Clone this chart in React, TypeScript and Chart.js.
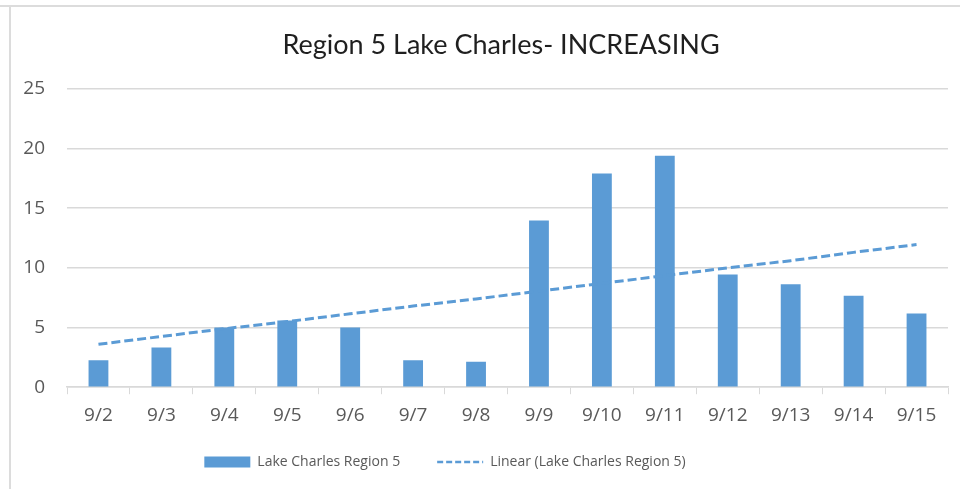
import React, { useEffect, useRef } from "react";
import { Chart, registerables } from "chart.js";

Chart.register(...registerables);

const categories = ["9/2", "9/3", "9/4", "9/5", "9/6", "9/7", "9/8", "9/9", "9/10", "9/11", "9/12", "9/13", "9/14", "9/15"];
const barValues = [2.25, 3.33, 5.0, 5.6, 5.0, 2.25, 2.13, 13.97, 17.9, 19.4, 9.44, 8.63, 7.67, 6.17];
const trendValues = [3.6, 4.25, 4.9, 5.5, 6.15, 6.8, 7.4, 8.05, 8.7, 9.35, 10.0, 10.6, 11.3, 11.95];
const yTicks = [0, 5, 10, 15, 20, 25];
const titleText = "Region 5 Lake Charles- INCREASING";
const barLabel = "Lake Charles Region 5";
const trendLabel = "Linear (Lake Charles Region 5)";

const BLUE = "#5B9BD5";
const GRID = "#d9d9d9";
const AXIS_TEXT = "#595959";

const CANVAS_W = 960;
const CANVAS_H = 489;
const TITLE_CENTER_X = 501;
const LEGEND_CENTER_X = 445;
const LEGEND_CENTER_Y = 462;
const LEGEND_PAD = 37;
const LEGEND_FONT = 14;

const placeBoxes = {
  id: "placeBoxes",
  afterLayout(chart: any) {
    const t = chart.titleBlock;
    if (t) {
      const dx = TITLE_CENTER_X - (t.left + t.right) / 2;
      t.left += dx;
      t.right += dx;
    }
    const l = chart.legend;
    if (l) {
      const dx = LEGEND_CENTER_X - (l.left + l.right) / 2;
      l.left += dx;
      l.right += dx;
      l.top = LEGEND_CENTER_Y - LEGEND_PAD - LEGEND_FONT / 2;
      l.bottom = CANVAS_H;
    }
  },
};

export default function App() {
  const canvasRef = useRef<HTMLCanvasElement | null>(null);

  useEffect(() => {
    if (!canvasRef.current) return;
    const chart = new Chart(canvasRef.current, {
      type: "bar",
      data: {
        labels: categories,
        datasets: [
          {
            type: "line",
            label: trendLabel,
            data: trendValues,
            borderColor: BLUE,
            backgroundColor: BLUE,
            borderWidth: 3,
            borderDash: [9, 4],
            pointRadius: 0,
            fill: false,
            tension: 0,
            order: 0,
          } as any,
          {
            type: "bar",
            label: barLabel,
            data: barValues,
            backgroundColor: BLUE,
            borderWidth: 0,
            barPercentage: 0.315,
            categoryPercentage: 1,
            order: 1,
          } as any,
        ],
      },
      options: {
        animation: false,
        responsive: false,
        maintainAspectRatio: false,
        layout: { padding: { left: 0, right: 12, top: 0, bottom: 8 } },
        plugins: {
          tooltip: { enabled: false },
          title: {
            display: true,
            text: titleText,
            color: "#1f1f1f",
            font: { family: "Lato", size: 27, weight: "normal" },
            padding: { top: 29, bottom: 27.5 },
          },
          legend: {
            display: true,
            position: "bottom",
            maxHeight: 44,
            labels: {
              usePointStyle: true,
              pointStyleWidth: 46,
              boxWidth: 46,
              boxHeight: 11,
              padding: LEGEND_PAD,
              color: AXIS_TEXT,
              font: { family: "Open Sans", size: LEGEND_FONT },
              generateLabels: () => [
                {
                  text: barLabel,
                  fillStyle: BLUE,
                  strokeStyle: BLUE,
                  lineWidth: 0,
                  pointStyle: "rect",
                  hidden: false,
                  datasetIndex: 1,
                  fontColor: AXIS_TEXT,
                } as any,
                {
                  text: trendLabel,
                  fillStyle: "rgba(0,0,0,0)",
                  strokeStyle: BLUE,
                  lineWidth: 2.5,
                  lineDash: [6, 3],
                  pointStyle: "line",
                  hidden: false,
                  datasetIndex: 0,
                  fontColor: AXIS_TEXT,
                } as any,
              ],
            },
          },
        },
        scales: {
          x: {
            offset: true,
            grid: {
              offset: true,
              drawOnChartArea: false,
              drawTicks: true,
              tickLength: 7,
              color: GRID,
              lineWidth: 1,
            },
            border: { display: true, color: GRID, width: 1.5 },
            ticks: {
              color: AXIS_TEXT,
              font: { family: "Open Sans", size: 19 },
              padding: 10,
              maxRotation: 0,
              autoSkip: false,
            },
          },
          y: {
            min: 0,
            max: 25,
            afterFit: (scale: any) => {
              scale.width = 67;
            },
            afterBuildTicks: (scale: any) => {
              scale.ticks = yTicks.map((v) => ({ value: v }));
            },
            grid: { drawTicks: false, color: GRID, lineWidth: 1.5 },
            border: { display: false },
            ticks: {
              color: AXIS_TEXT,
              font: { family: "Open Sans", size: 19 },
              padding: 22,
            },
          },
        },
      },
      plugins: [placeBoxes],
    });
    return () => chart.destroy();
  }, []);

  return (
    <div style={{ position: "fixed", left: 0, top: 0, width: CANVAS_W, height: CANVAS_H, background: "#fff", overflow: "hidden" }}>
      <canvas ref={canvasRef} width={CANVAS_W} height={CANVAS_H} style={{ position: "absolute", left: 0, top: 0, width: CANVAS_W, height: CANVAS_H }} />
      <div style={{ position: "absolute", left: 0, top: 5, width: CANVAS_W, height: 2, background: "#dcdcdc" }} />
      <div style={{ position: "absolute", left: 9, top: 6, width: 2, height: CANVAS_H - 6, background: "#dcdcdc" }} />
    </div>
  );
}
